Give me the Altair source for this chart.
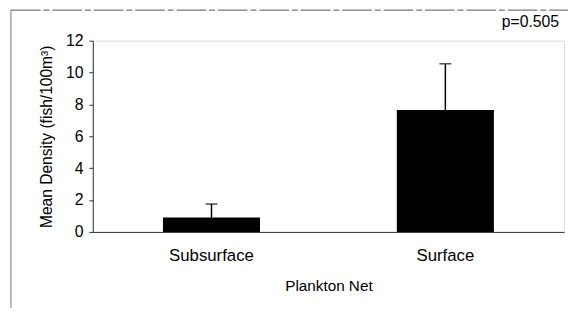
import altair as alt
import pandas as pd

categories = ["Subsurface", "Surface"]
means = [0.9, 7.65]
errors = [0.85, 2.9]
p_label = "p=0.505"

df = pd.DataFrame({"net": categories, "mean": means, "err": errors})
df["top"] = df["mean"] + df["err"]

font = "Liberation Sans"

xscale = alt.Scale(paddingInner=0.585, paddingOuter=0.3)
yscale = alt.Scale(domain=[0, 12], nice=False)

xaxis = alt.Axis(title="Plankton Net", labelAngle=0, ticks=False,
                 labelPadding=16, titlePadding=15, labelFontSize=17,
                 titleFontSize=15.5, domainColor="#333", domainWidth=1,
                 labelFont=font, titleFont=font, labelColor="black", titleColor="black",
                 titleFontWeight="normal")
yaxis = alt.Axis(title="Mean Density (fish/100m³)", values=[0, 2, 4, 6, 8, 10, 12],
                 grid=False, tickSize=4, labelPadding=6, titlePadding=11,
                 labelOverlap=False, labelFontSize=16, titleFontSize=15.8,
                 domainColor="#333", tickColor="#333",
                 labelFont=font, titleFont=font, labelColor="black", titleColor="black",
                 titleFontWeight="normal")

bars = alt.Chart(df).mark_bar(color="black").encode(
    x=alt.X("net:N", sort=categories, scale=xscale, axis=xaxis),
    y=alt.Y("mean:Q", scale=yscale, axis=yaxis),
)

rules = alt.Chart(df).mark_rule(color="black", strokeWidth=1.5).encode(
    x=alt.X("net:N", sort=categories, scale=xscale, axis=xaxis),
    y=alt.Y("mean:Q", scale=yscale, axis=yaxis),
    y2="top:Q",
)

caps = alt.Chart(df).mark_tick(color="black", size=12, thickness=1.5, orient="horizontal").encode(
    x=alt.X("net:N", sort=categories, scale=xscale, axis=xaxis),
    y=alt.Y("top:Q", scale=yscale, axis=yaxis),
)

ptext = alt.Chart(pd.DataFrame({"t": [p_label]})).mark_text(
    align="right", baseline="alphabetic", fontSize=16, font=font, color="black"
).encode(text="t:N", x=alt.value(473), y=alt.value(-14))

frame_left = alt.Chart(pd.DataFrame({"a": [0]})).mark_rule(color="#777", strokeWidth=1).encode(
    x=alt.value(-83), y=alt.value(-31), y2=alt.value(300))
frame_top = alt.Chart(pd.DataFrame({"a": [0]})).mark_rule(color="#555", strokeWidth=1, strokeDash=[30, 3, 6, 3]).encode(
    x=alt.value(-83), x2=alt.value(490), y=alt.value(-31))

chart = alt.layer(bars, rules, caps, ptext, frame_left, frame_top).properties(
    width=478, height=194,
    autosize=alt.AutoSizeParams(type="none"),
    padding={"left": 86, "top": 31, "right": 4, "bottom": 75},
).configure_view(strokeWidth=0).configure(font=font)

chart.save("out.html", embed_options={"renderer": "svg", "actions": False})
